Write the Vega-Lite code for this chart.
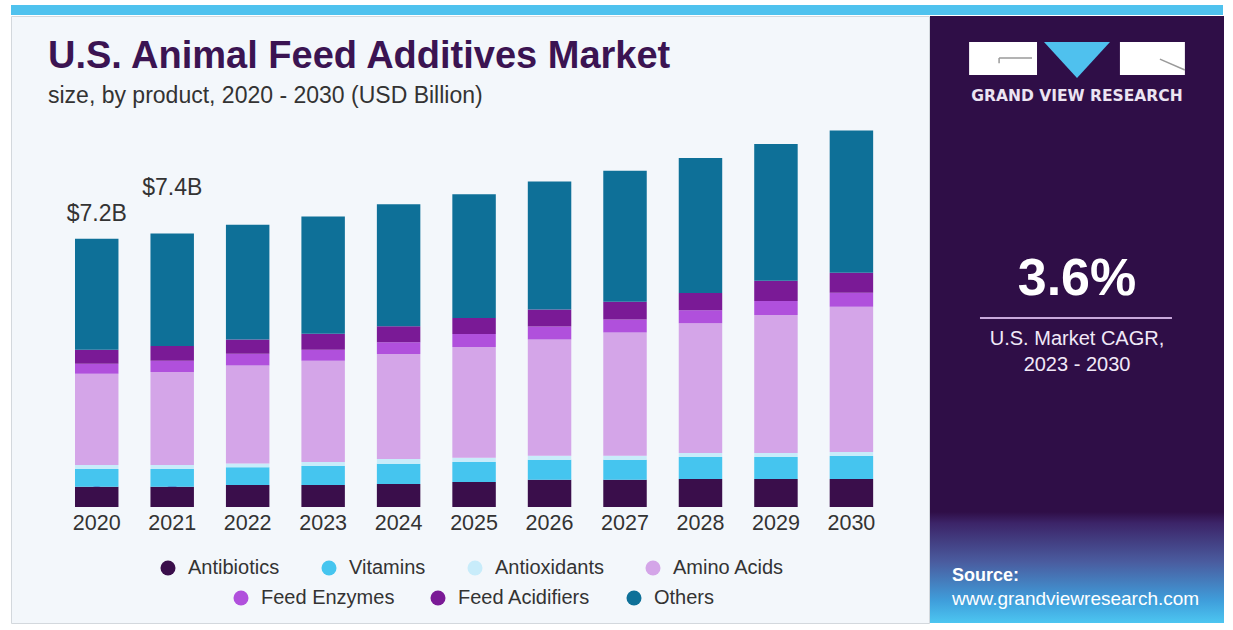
{
  "$schema": "https://vega.github.io/schema/vega-lite/v6.json",
  "background": "#ffffff",
  "padding": {"left": 10, "top": 5, "right": 11, "bottom": 8},
  "config": {"font": "Liberation Sans", "view": {"stroke": null}},
  "spacing": 0,
  "vconcat": [
    {
      "width": 1212,
      "height": 10,
      "view": {"fill": "#4fc2ee", "stroke": null},
      "data": {"values": [{}]},
      "mark": {"type": "rect", "opacity": 0},
      "encoding": {}
    },
    {
      "spacing": 0,
      "hconcat": [
        {
          "width": 918,
          "height": 607,
          "view": {"fill": "#f3f7fb", "stroke": "#d3d8dd"},
          "title": {
            "text": "U.S. Animal Feed Additives Market",
            "subtitle": "size, by product, 2020 - 2030 (USD Billion)",
            "anchor": "start",
            "frame": "group",
            "dx": 37,
            "offset": -92,
            "fontSize": 38,
            "fontWeight": "bold",
            "color": "#3b1452",
            "subtitleFontSize": 23,
            "subtitleColor": "#333333",
            "subtitlePadding": 9
          },
          "data": {
            "values": [
              {"year": "2020", "product": "Antibiotics", "value": 0.54},
              {"year": "2020", "product": "Vitamins", "value": 0.48},
              {"year": "2020", "product": "Antioxidants", "value": 0.11},
              {"year": "2020", "product": "Amino Acids", "value": 2.45},
              {"year": "2020", "product": "Feed Enzymes", "value": 0.27},
              {"year": "2020", "product": "Feed Acidifiers", "value": 0.38},
              {"year": "2020", "product": "Others", "value": 2.98},
              {"year": "2021", "product": "Antibiotics", "value": 0.54},
              {"year": "2021", "product": "Vitamins", "value": 0.48},
              {"year": "2021", "product": "Antioxidants", "value": 0.11},
              {"year": "2021", "product": "Amino Acids", "value": 2.5},
              {"year": "2021", "product": "Feed Enzymes", "value": 0.3},
              {"year": "2021", "product": "Feed Acidifiers", "value": 0.4},
              {"year": "2021", "product": "Others", "value": 3.02},
              {"year": "2022", "product": "Antibiotics", "value": 0.59},
              {"year": "2022", "product": "Vitamins", "value": 0.48},
              {"year": "2022", "product": "Antioxidants", "value": 0.1},
              {"year": "2022", "product": "Amino Acids", "value": 2.63},
              {"year": "2022", "product": "Feed Enzymes", "value": 0.32},
              {"year": "2022", "product": "Feed Acidifiers", "value": 0.38},
              {"year": "2022", "product": "Others", "value": 3.09},
              {"year": "2023", "product": "Antibiotics", "value": 0.59},
              {"year": "2023", "product": "Vitamins", "value": 0.51},
              {"year": "2023", "product": "Antioxidants", "value": 0.11},
              {"year": "2023", "product": "Amino Acids", "value": 2.72},
              {"year": "2023", "product": "Feed Enzymes", "value": 0.3},
              {"year": "2023", "product": "Feed Acidifiers", "value": 0.43},
              {"year": "2023", "product": "Others", "value": 3.15},
              {"year": "2024", "product": "Antibiotics", "value": 0.62},
              {"year": "2024", "product": "Vitamins", "value": 0.54},
              {"year": "2024", "product": "Antioxidants", "value": 0.13},
              {"year": "2024", "product": "Amino Acids", "value": 2.82},
              {"year": "2024", "product": "Feed Enzymes", "value": 0.32},
              {"year": "2024", "product": "Feed Acidifiers", "value": 0.43},
              {"year": "2024", "product": "Others", "value": 3.28},
              {"year": "2025", "product": "Antibiotics", "value": 0.67},
              {"year": "2025", "product": "Vitamins", "value": 0.54},
              {"year": "2025", "product": "Antioxidants", "value": 0.11},
              {"year": "2025", "product": "Amino Acids", "value": 2.98},
              {"year": "2025", "product": "Feed Enzymes", "value": 0.35},
              {"year": "2025", "product": "Feed Acidifiers", "value": 0.43},
              {"year": "2025", "product": "Others", "value": 3.33},
              {"year": "2026", "product": "Antibiotics", "value": 0.73},
              {"year": "2026", "product": "Vitamins", "value": 0.54},
              {"year": "2026", "product": "Antioxidants", "value": 0.11},
              {"year": "2026", "product": "Amino Acids", "value": 3.12},
              {"year": "2026", "product": "Feed Enzymes", "value": 0.35},
              {"year": "2026", "product": "Feed Acidifiers", "value": 0.46},
              {"year": "2026", "product": "Others", "value": 3.44},
              {"year": "2027", "product": "Antibiotics", "value": 0.73},
              {"year": "2027", "product": "Vitamins", "value": 0.54},
              {"year": "2027", "product": "Antioxidants", "value": 0.11},
              {"year": "2027", "product": "Amino Acids", "value": 3.31},
              {"year": "2027", "product": "Feed Enzymes", "value": 0.35},
              {"year": "2027", "product": "Feed Acidifiers", "value": 0.48},
              {"year": "2027", "product": "Others", "value": 3.52},
              {"year": "2028", "product": "Antibiotics", "value": 0.75},
              {"year": "2028", "product": "Vitamins", "value": 0.59},
              {"year": "2028", "product": "Antioxidants", "value": 0.11},
              {"year": "2028", "product": "Amino Acids", "value": 3.49},
              {"year": "2028", "product": "Feed Enzymes", "value": 0.35},
              {"year": "2028", "product": "Feed Acidifiers", "value": 0.46},
              {"year": "2028", "product": "Others", "value": 3.63},
              {"year": "2029", "product": "Antibiotics", "value": 0.75},
              {"year": "2029", "product": "Vitamins", "value": 0.59},
              {"year": "2029", "product": "Antioxidants", "value": 0.11},
              {"year": "2029", "product": "Amino Acids", "value": 3.71},
              {"year": "2029", "product": "Feed Enzymes", "value": 0.38},
              {"year": "2029", "product": "Feed Acidifiers", "value": 0.54},
              {"year": "2029", "product": "Others", "value": 3.68},
              {"year": "2030", "product": "Antibiotics", "value": 0.75},
              {"year": "2030", "product": "Vitamins", "value": 0.62},
              {"year": "2030", "product": "Antioxidants", "value": 0.11},
              {"year": "2030", "product": "Amino Acids", "value": 3.9},
              {"year": "2030", "product": "Feed Enzymes", "value": 0.38},
              {"year": "2030", "product": "Feed Acidifiers", "value": 0.54},
              {"year": "2030", "product": "Others", "value": 3.82}
            ]
          },
          "encoding": {
            "x": {
              "field": "year",
              "type": "ordinal",
              "title": null,
              "scale": {"paddingInner": 0.424, "paddingOuter": 0.794, "align": 0.534},
              "axis": {"orient": "bottom", "offset": -116, "domain": false, "ticks": false, "grid": false, "labelFontSize": 21.5, "labelColor": "#333333", "labelPadding": 5, "labelAngle": 0}
            },
            "y": {
              "field": "value",
              "type": "quantitative",
              "scale": {"domain": [-3.12, 13.2], "nice": false, "zero": false},
              "axis": null
            }
          },
          "layer": [
            {
              "transform": [{"filter": {"field": "product", "oneOf": ["Feed Enzymes", "Feed Acidifiers", "Others"]}}],
              "mark": {"type": "point", "filled": true, "size": 200, "strokeWidth": 0, "opacity": 1},
              "encoding": {
                "fill": {
                  "field": "product",
                  "type": "nominal",
                  "scale": {"domain": ["Feed Enzymes", "Feed Acidifiers", "Others"], "range": ["#b050dc", "#7a1a96", "#0e7098"]},
                  "legend": {"orient": "none", "legendX": 220, "legendY": 583, "direction": "horizontal", "title": null, "symbolType": "circle", "symbolSize": 225, "symbolOpacity": 1, "labelFontSize": 20, "labelColor": "#333333", "labelOffset": 10, "columnPadding": 33, "padding": 0}
                }
              }
            },
            {
              "transform": [
                {"calculate": "indexof(['Antibiotics','Vitamins','Antioxidants','Amino Acids','Feed Enzymes','Feed Acidifiers','Others'], datum.product)", "as": "stackOrder"}
              ],
              "mark": {"type": "bar"},
              "encoding": {
                "color": {
                  "field": "product",
                  "type": "nominal",
                  "sort": ["Antibiotics", "Vitamins", "Antioxidants", "Amino Acids", "Feed Enzymes", "Feed Acidifiers", "Others"],
                  "scale": {
                    "domain": ["Antibiotics", "Vitamins", "Antioxidants", "Amino Acids", "Feed Enzymes", "Feed Acidifiers", "Others"],
                    "range": ["#3a0e4b", "#45c5ef", "#c8ecfa", "#d4a5e8", "#b050dc", "#7a1a96", "#0e7098"]
                  },
                  "legend": {"values": ["Antibiotics", "Vitamins", "Antioxidants", "Amino Acids"], "orient": "none", "legendX": 147, "legendY": 553, "direction": "horizontal", "title": null, "symbolType": "circle", "symbolSize": 225, "labelFontSize": 20, "labelColor": "#333333", "labelOffset": 10, "columnPadding": 39, "padding": 0}
                },
                "order": {"field": "stackOrder", "type": "quantitative", "sort": "ascending"}
              }
            },
            {
              "transform": [
                {"filter": {"field": "year", "equal": "2020"}},
                {"aggregate": [{"op": "sum", "field": "value", "as": "total"}], "groupby": ["year"]}
              ],
              "mark": {"type": "text", "text": "$7.2B", "fontSize": 23, "color": "#333333", "dy": -25, "baseline": "middle"},
              "encoding": {"y": {"field": "total", "type": "quantitative"}}
            },
            {
              "transform": [
                {"filter": {"field": "year", "equal": "2021"}},
                {"aggregate": [{"op": "sum", "field": "value", "as": "total"}], "groupby": ["year"]}
              ],
              "mark": {"type": "text", "text": "$7.4B", "fontSize": 23, "color": "#333333", "dy": -46, "baseline": "middle"},
              "encoding": {"y": {"field": "total", "type": "quantitative"}}
            }
          ]
        },
        {
          "width": 294,
          "height": 607,
          "view": {"fill": "#2f0e47", "stroke": null},
          "data": {"values": [{}]},
          "layer": [
            {
              "mark": {"type": "rect", "fill": {"gradient": "linear", "x1": 0, "y1": 0, "x2": 0, "y2": 1, "stops": [{"offset": 0, "color": "#2f0e47"}, {"offset": 0.1, "color": "#3c2468"}, {"offset": 0.45, "color": "#4a5c9f"}, {"offset": 0.8, "color": "#3f9edb"}, {"offset": 1, "color": "#4cc6f1"}]}},
              "encoding": {
                "x": {"datum": 0, "type": "quantitative", "scale": {"domain": [0, 1]}, "axis": null},
                "x2": {"datum": 1},
                "y": {"datum": 0, "type": "quantitative", "scale": {"domain": [0, 1]}, "axis": null},
                "y2": {"datum": 0.183}
              }
            },
            {
              "mark": {"type": "rect", "color": "#ffffff"},
              "encoding": {
                "x": {"datum": 0.133, "type": "quantitative"},
                "x2": {"datum": 0.364},
                "y": {"datum": 0.957, "type": "quantitative"},
                "y2": {"datum": 0.903}
              }
            },
            {
              "mark": {"type": "rect", "color": "#ffffff"},
              "encoding": {
                "x": {"datum": 0.646, "type": "quantitative"},
                "x2": {"datum": 0.867},
                "y": {"datum": 0.957, "type": "quantitative"},
                "y2": {"datum": 0.903}
              }
            },
            {
              "mark": {"type": "point", "filled": true, "shape": "M-1,-0.545L1,-0.545L0,0.545Z", "size": 4356, "color": "#4fc1ee", "opacity": 1, "strokeWidth": 0},
              "encoding": {
                "x": {"datum": 0.5, "type": "quantitative"},
                "y": {"datum": 0.9275, "type": "quantitative"}
              }
            },
            {
              "mark": {"type": "rule", "color": "#9a9a9a", "strokeWidth": 1.5},
              "encoding": {
                "x": {"datum": 0.235, "type": "quantitative"},
                "x2": {"datum": 0.347},
                "y": {"datum": 0.931, "type": "quantitative"},
                "y2": {"datum": 0.931}
              }
            },
            {
              "mark": {"type": "rule", "color": "#9a9a9a", "strokeWidth": 1.5},
              "encoding": {
                "x": {"datum": 0.235, "type": "quantitative"},
                "x2": {"datum": 0.235},
                "y": {"datum": 0.931, "type": "quantitative"},
                "y2": {"datum": 0.922}
              }
            },
            {
              "mark": {"type": "rule", "color": "#9a9a9a", "strokeWidth": 1.5},
              "encoding": {
                "x": {"datum": 0.782, "type": "quantitative"},
                "x2": {"datum": 0.867},
                "y": {"datum": 0.929, "type": "quantitative"},
                "y2": {"datum": 0.911}
              }
            },
            {
              "mark": {"type": "text", "text": "GRAND VIEW RESEARCH", "font": "DejaVu Sans", "fontWeight": "bold", "fontSize": 15.5, "color": "#ece4f2", "align": "center", "baseline": "middle"},
              "encoding": {
                "x": {"datum": 0.5, "type": "quantitative"},
                "y": {"datum": 0.868, "type": "quantitative"}
              }
            },
            {
              "mark": {"type": "text", "text": "3.6%", "fontWeight": "bold", "fontSize": 52, "color": "#ffffff", "align": "center", "baseline": "middle"},
              "encoding": {
                "x": {"datum": 0.5, "type": "quantitative"},
                "y": {"datum": 0.567, "type": "quantitative"}
              }
            },
            {
              "mark": {"type": "rule", "color": "#c9a8dc", "strokeWidth": 2},
              "encoding": {
                "x": {"datum": 0.17, "type": "quantitative"},
                "x2": {"datum": 0.823},
                "y": {"datum": 0.5025, "type": "quantitative"},
                "y2": {"datum": 0.5025}
              }
            },
            {
              "mark": {"type": "text", "text": "U.S. Market CAGR,", "fontSize": 20, "color": "#f1e9f8", "align": "center", "baseline": "middle"},
              "encoding": {
                "x": {"datum": 0.5, "type": "quantitative"},
                "y": {"datum": 0.468, "type": "quantitative"}
              }
            },
            {
              "mark": {"type": "text", "text": "2023 - 2030", "fontSize": 20, "color": "#f1e9f8", "align": "center", "baseline": "middle"},
              "encoding": {
                "x": {"datum": 0.5, "type": "quantitative"},
                "y": {"datum": 0.425, "type": "quantitative"}
              }
            },
            {
              "mark": {"type": "text", "text": "Source:", "fontWeight": "bold", "fontSize": 18, "color": "#ffffff", "align": "left", "baseline": "middle"},
              "encoding": {
                "x": {"datum": 0.075, "type": "quantitative"},
                "y": {"datum": 0.0774, "type": "quantitative"}
              }
            },
            {
              "mark": {"type": "text", "text": "www.grandviewresearch.com", "fontSize": 19, "color": "#ffffff", "align": "left", "baseline": "middle"},
              "encoding": {
                "x": {"datum": 0.075, "type": "quantitative"},
                "y": {"datum": 0.0395, "type": "quantitative"}
              }
            }
          ]
        }
      ]
    }
  ]
}
